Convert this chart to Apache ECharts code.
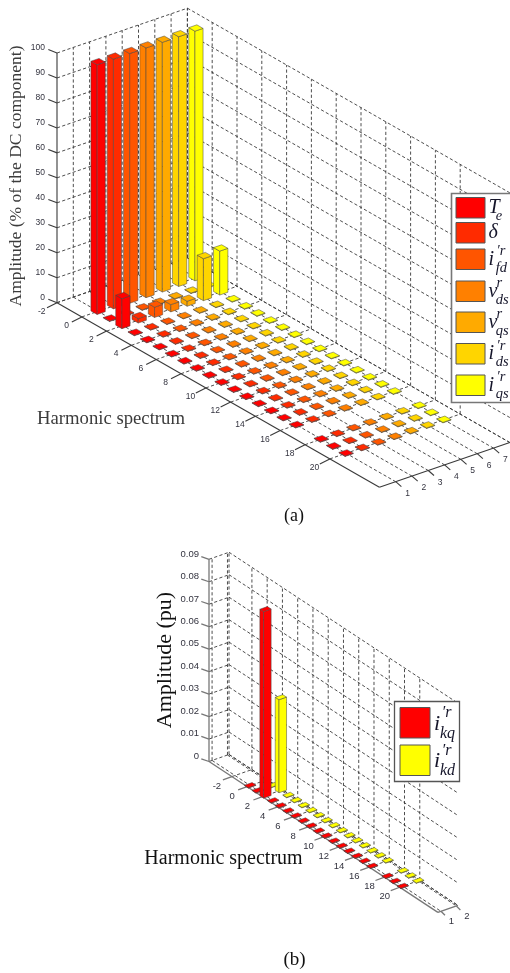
<!DOCTYPE html>
<html>
<head>
<meta charset="utf-8">
<style>html,body{margin:0;padding:0;background:#fff}#c{width:510px;height:973px;filter:blur(.4px)}</style>
<script src="https://cdn.jsdelivr.net/npm/echarts@6/dist/echarts.min.js"></script>
</head>
<body>
<div id="c"></div>
<script>
// ---------- data: panel (a), amplitude in % of DC, harmonics 0..20 (17 absent) ----------
var Te   = [100,.2,12.0,.2,.2,.2,.2,.2,.2,.2,.2,.2,.2,.2,.2,.2,.2,null,.2,.2,.2];
var delta= [100,.2,1.8,.2,.2,.2,.2,.2,.2,.2,.2,.2,.2,.2,.2,.2,.2,null,.2,.2,.2];
var ifd  = [100,.2,4.1,.2,.2,.2,.2,.2,.2,.2,.2,.2,.2,.2,.2,.2,.2,null,.2,.2,.2];
var vds  = [100,.2,2.9,.2,.2,.2,.2,.2,.2,.2,.2,.2,.2,.2,.2,.2,.2,null,.2,.2,.2];
var vqs  = [100,.2,2.0,.2,.2,.2,.2,.2,.2,.2,.2,.2,.2,.2,.2,.2,.2,null,.2,.2,.2];
var ids  = [100,.2,16.8,.2,.2,.2,.2,.2,.2,.2,.2,.2,.2,.2,.2,.2,.2,null,.2,.2,.2];
var iqs  = [100,.2,17.6,.2,.2,.2,.2,.2,.2,.2,.2,.2,.2,.2,.2,.2,.2,null,.2,.2,.2];
// ---------- data: panel (b), amplitude in pu ----------
var ikq  = [.0002,.0002,.083,.0002,.0002,.0002,.0002,.0002,.0002,.0002,.0002,.0002,.0002,.0002,.0002,.0002,.0002,null,.0002,.0002,.0002];
var ikd  = [.0002,.0002,.0414,.0002,.0002,.0002,.0002,.0002,.0002,.0002,.0002,.0002,.0002,.0002,.0002,.0002,.0002,null,.0002,.0002,.0002];
// ---------- tick labels ----------
var hTicks = [-2,0,2,4,6,8,10,12,14,16,18,20];
var sTicksA = [1,2,3,4,5,6,7];
var sTicksB = [1,2];
var zTicksA = [0,10,20,30,40,50,60,70,80,90,100];
var zTicksB = [0,.01,.02,.03,.04,.05,.06,.07,.08,.09];
var zLabelsB = ['0','0.01','0.02','0.03','0.04','0.05','0.06','0.07','0.08','0.09'];
var colorsA = ['#ff0000','#ff2b00','#ff5500','#ff8000','#ffaa00','#ffd500','#ffff00'];
var colorsB = ['#ff0000','#ffff00'];
var namesA = ['Te','delta','ifd','vds','vqs','ids','iqs'];
var namesB = ['ikq','ikd'];
var legendA = [['T','','e'],['\u03b4','',''],['i','\u2032r','fd'],['v','r','ds'],['v','r','qs'],['i','\u2032r','ds'],['i','\u2032r','qs']];
var legendB = [['i','\u2032r','kq'],['i','\u2032r','kd']];

// ---------- oblique projection of each 3-D box onto the page plane ----------
var panelA = {o:[57,302.7],hMin:-2,hMax:24,sMin:0,sMax:8,zMax:100,hv:[12.4,7.1],sv:[16.3,-5.6],zs:2.497,
  hTicks:hTicks,sTicks:sTicksA,zTicks:zTicksA,zLabels:zTicksA.map(String),
  zt:[-8.7,-3.4],ht:[-10,5],st:[5.7,5],zlo:[-12,-5.5],hlo:[-15.3,8.8],slo:[11.8,11.8],
  font:8.5,axisColor:'#3a3a3a',axisW:1.1,barW:.25};
var panelB = {o:[209,761.5],hMin:-5,hMax:25,sMin:.8,sMax:2.1,zMax:.09,hv:[7.63,5.03],sv:[15.4,-5.4],zs:2247,
  hTicks:hTicks,sTicks:sTicksB,zTicks:zTicksB,zLabels:zLabelsB,
  zt:[-7.7,-2.7],ht:[-9,3.3],st:[4,4],zlo:[-10,-5.3],hlo:[-15,9.5],slo:[10.5,10.2],
  font:9.5,axisColor:'#777',axisW:1.3,barW:.245};
function proj(p,h,s,z){
  return [p.o[0]+(h-p.hMin)*p.hv[0]+(s-p.sMin)*p.sv[0],
          p.o[1]+(h-p.hMin)*p.hv[1]+(s-p.sMin)*p.sv[1]-z*p.zs];
}
function frameSeries(p){
  var dash=[], solid=[], labels=[];
  p.hTicks.forEach(function(h){
    dash.push([proj(p,h,p.sMin,0),proj(p,h,p.sMax,0)]);
    dash.push([proj(p,h,p.sMax,0),proj(p,h,p.sMax,p.zMax)]);
    var a=proj(p,h,p.sMin,0);
    solid.push([a,[a[0]+p.ht[0],a[1]+p.ht[1]]]);
    labels.push([a[0]+p.hlo[0],a[1]+p.hlo[1],String(h),'center']);
  });
  p.sTicks.forEach(function(s){
    dash.push([proj(p,p.hMin,s,0),proj(p,p.hMax,s,0)]);
    dash.push([proj(p,p.hMin,s,0),proj(p,p.hMin,s,p.zMax)]);
    var a=proj(p,p.hMax,s,0);
    solid.push([a,[a[0]+p.st[0],a[1]+p.st[1]]]);
    labels.push([a[0]+p.slo[0],a[1]+p.slo[1],String(s),'center']);
  });
  dash.push([proj(p,p.hMin,p.sMax,0),proj(p,p.hMax,p.sMax,0)]);
  dash.push([proj(p,p.hMin,p.sMax,0),proj(p,p.hMin,p.sMax,p.zMax)]);
  p.zTicks.forEach(function(z,i){
    dash.push([proj(p,p.hMin,p.sMin,z),proj(p,p.hMin,p.sMax,z)]);
    dash.push([proj(p,p.hMin,p.sMax,z),proj(p,p.hMax,p.sMax,z)]);
    var a=proj(p,p.hMin,p.sMin,z);
    solid.push([a,[a[0]+p.zt[0],a[1]+p.zt[1]]]);
    labels.push([a[0]+p.zlo[0],a[1]+p.zlo[1],p.zLabels[i],'right']);
  });
  solid.push([proj(p,p.hMin,p.sMin,0),proj(p,p.hMin,p.sMin,p.zMax)]);
  solid.push([proj(p,p.hMin,p.sMin,0),proj(p,p.hMax,p.sMin,0)]);
  solid.push([proj(p,p.hMax,p.sMin,0),proj(p,p.hMax,p.sMax,0)]);
  return {
    type:'custom',name:'frame',silent:true,clip:false,z:1,
    data:[0],
    renderItem:function(params,api){
      var ch=[];
      dash.forEach(function(l){var a=api.coord(l[0]),b=api.coord(l[1]);
        ch.push({type:'line',shape:{x1:a[0],y1:a[1],x2:b[0],y2:b[1]},style:{stroke:'#3a3a3a',lineWidth:.9,lineDash:[3.2,2.3]}});});
      solid.forEach(function(l){var a=api.coord(l[0]),b=api.coord(l[1]);
        ch.push({type:'line',shape:{x1:a[0],y1:a[1],x2:b[0],y2:b[1]},style:{stroke:p.axisColor,lineWidth:p.axisW}});});
      labels.forEach(function(t){var a=api.coord([t[0],t[1]]);
        ch.push({type:'text',x:a[0],y:a[1],style:{text:t[2],fill:'#33333f',fontFamily:'Liberation Sans',fontSize:p.font,align:t[3],verticalAlign:'middle'}});});
      return {type:'group',children:ch};
    }
  };
}
function barSeries(p,name,values,s,color){
  var w=p.barW, data=[];
  values.forEach(function(v,i){ if(v!==null) data.push([i,v]); });
  return {
    type:'custom',name:name,silent:true,clip:false,z:2,data:data,
    renderItem:function(params,api){
      var h=api.value(0), z=api.value(1);
      function P(dh,ds,zz){return api.coord(proj(p,h+dh,s+ds,zz));}
      var st={fill:color,stroke:'#444',lineWidth:.5,lineJoin:'round'};
      return {type:'group',children:[
        {type:'polygon',shape:{points:[P(-w,-w,0),P(w,-w,0),P(w,-w,z),P(-w,-w,z)]},style:st},
        {type:'polygon',shape:{points:[P(w,-w,0),P(w,w,0),P(w,w,z),P(w,-w,z)]},style:st},
        {type:'polygon',shape:{points:[P(-w,-w,z),P(w,-w,z),P(w,w,z),P(-w,w,z)]},style:st}
      ]};
    }
  };
}
var seriesA=[Te,delta,ifd,vds,vqs,ids,iqs], seriesB=[ikq,ikd];
var series=[frameSeries(panelA),frameSeries(panelB)];
// back-to-front: rows far from the viewer are painted first
for(var r=seriesA.length-1;r>=0;r--) series.push(barSeries(panelA,namesA[r],seriesA[r],r+1,colorsA[r]));
for(var q=seriesB.length-1;q>=0;q--) series.push(barSeries(panelB,namesB[q],seriesB[q],q+1,colorsB[q]));

// ---------- text and legends ----------
var serif='Liberation Serif';
function txt(x,y,t,size,fill,extra){
  var o={type:'text',x:x,y:y,z:120,style:{text:t,fontFamily:serif,fontSize:size,fill:fill,align:'center',verticalAlign:'middle'}};
  if(extra) for(var k in extra) o[k]=extra[k];
  return o;
}
function legend(box,border,bw,swX,swW,rows,swH,colors,items,size,subSize,off){
  var g=[{type:'rect',z:110,shape:{x:box[0],y:box[1],width:box[2],height:box[3]},style:{fill:'#fff',stroke:border,lineWidth:bw}}];
  items.forEach(function(it,i){
    g.push({type:'rect',z:111,shape:{x:swX,y:rows[i],width:swW,height:swH},style:{fill:colors[i],stroke:'#555',lineWidth:1}});
    var st={fontFamily:serif,fontStyle:'italic',fill:'#15152a',verticalAlign:'middle',align:'left'};
    var mk=function(x,y,t,sz){return {type:'text',z:112,x:x,y:y,style:Object.assign({text:t,fontSize:sz},st)};};
    var cy=rows[i]+swH/2;
    g.push(mk(swX+swW+off[0],cy+off[1],it[0],size));
    if(it[1]) g.push(mk(swX+swW+off[2],cy+off[3],it[1],subSize));
    if(it[2]) g.push(mk(swX+swW+off[4],cy+off[5],it[2],subSize));
  });
  return g;
}
var graphics=[
  txt(16.7,176,'Amplitude (% of the DC component)',17.5,'#3c3c3c',{rotation:Math.PI/2}),
  txt(111,419,'Harmonic spectrum',18.7,'#3c3c3c'),
  txt(294,516,'(a)',18,'#111'),
  txt(165.7,660,'Amplitude (pu)',22,'#111',{rotation:Math.PI/2}),
  txt(223.5,859,'Harmonic spectrum',20,'#111'),
  txt(294.5,960,'(b)',19,'#111')
].concat(
  legend([451.5,193.5,62,209],'#777',1.6,456,29,[197.5,222.5,249,281,312,343.5,375],20.5,colorsA,legendA,20,14.5,[3.5,0,11.5,-8,10.7,8.5]),
  legend([394.5,701.5,65,80],'#555',1.3,400,30,[707.5,745],30.5,colorsB,legendB,22,16,[4,1,11.7,-9.5,10,11])
);

var chart=echarts.init(document.getElementById('c'),null,{renderer:'canvas'});
chart.setOption({
  animation:false,
  backgroundColor:'#fff',
  grid:{left:0,right:0,top:0,bottom:0},
  xAxis:{type:'value',min:0,max:510,show:false},
  yAxis:{type:'value',min:0,max:973,inverse:true,show:false},
  series:series,
  graphic:graphics
});
</script>
</body>
</html>
